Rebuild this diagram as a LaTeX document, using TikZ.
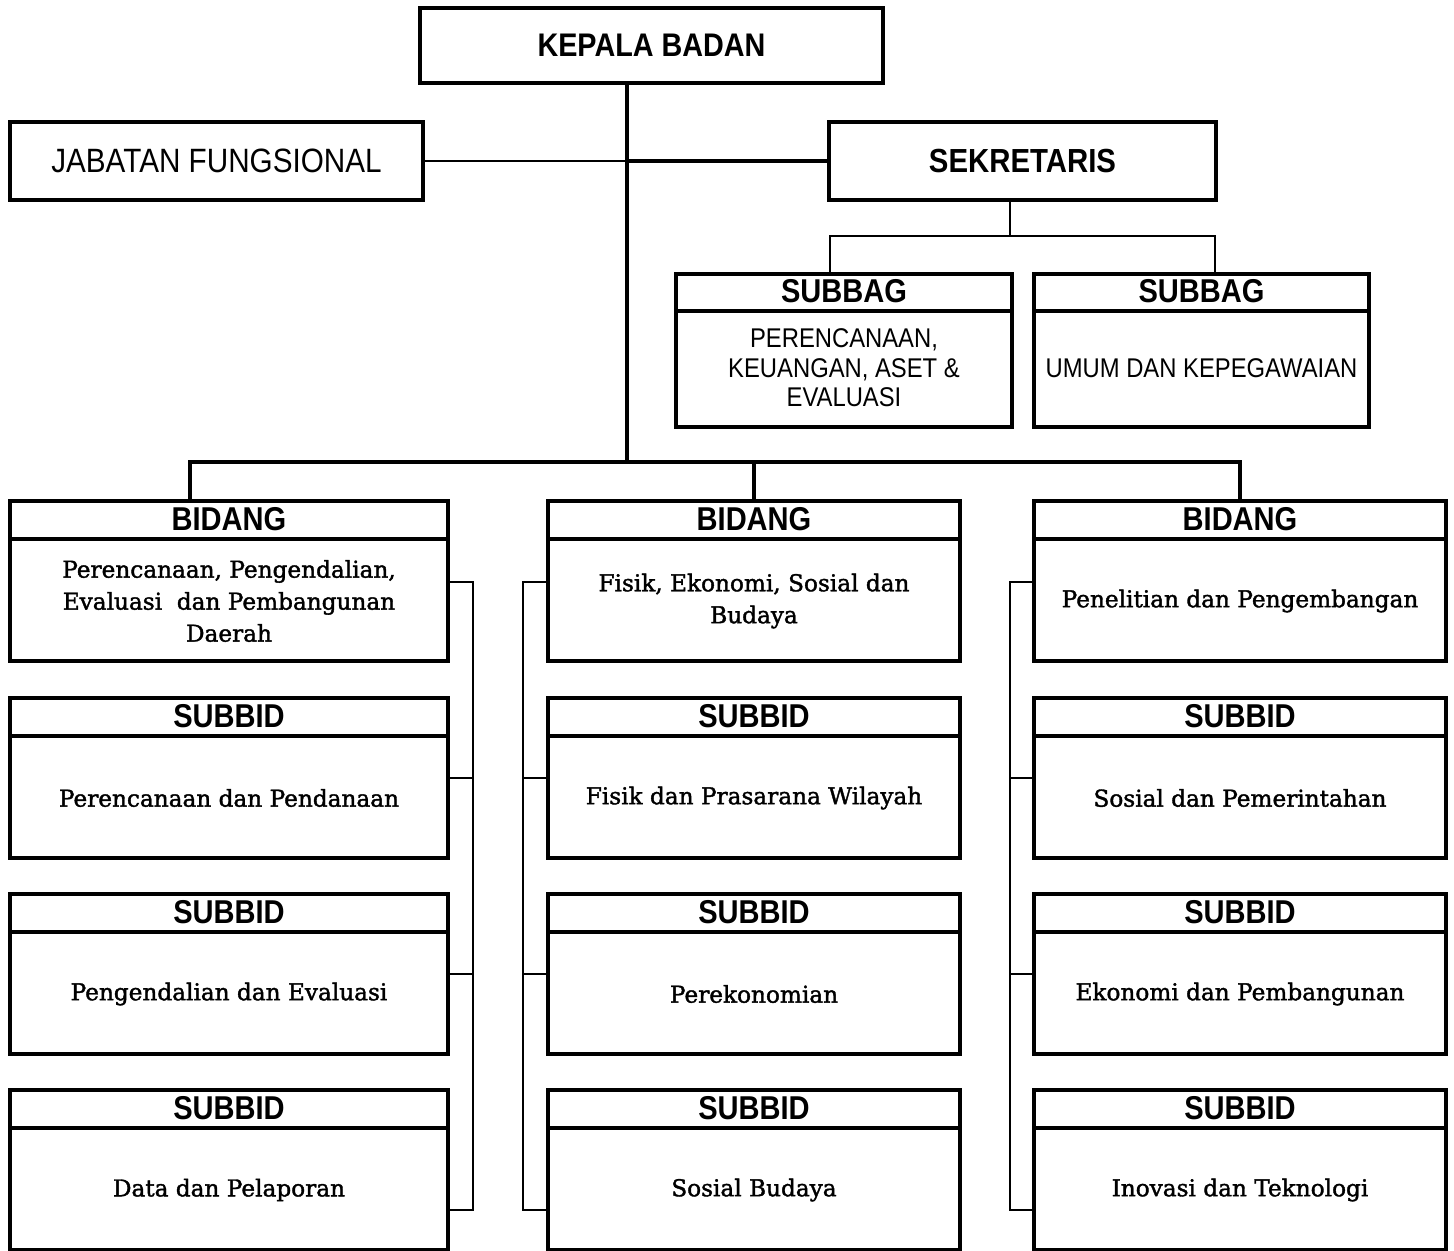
\documentclass[tikz,border=0pt]{standalone}
\usepackage{fontspec}
\newfontfamily\hdrfont[FakeStretch=0.88]{Liberation Sans}
\newfontfamily\bodyfont[FakeBold=1.6]{DejaVu Serif}
\begin{document}
\begin{tikzpicture}[x=.02cm,y=-.02cm,
  unit/.style={draw,line width=.08cm,inner sep=0pt},
  hdr/.style={font=\hdrfont\bfseries\fontsize{18.8}{20}\selectfont},
  sbtxt/.style={font=\hdrfont\fontsize{15.4}{16.8}\selectfont,align=center},
  txt/.style={font=\bodyfont\fontsize{13.2}{18.2}\selectfont,align=center},
  link/.style={line width=.08cm},
  fork/.style={line width=.05cm},
  bracket/.style={line width=.055cm},
  thin link/.style={line width=.03cm}]
\useasboundingbox (0,0) rectangle (1454,1251);
% top level
\node[unit,minimum width=463*.02cm,minimum height=75*.02cm,font=\hdrfont\bfseries\fontsize{18.6}{20}\selectfont] (kepala) at (651.5,45.5) {KEPALA BADAN};
\node[unit,minimum width=413*.02cm,minimum height=78*.02cm,font=\hdrfont\fontsize{19.2}{21}\selectfont] (jafung) at (216.5,161) {JABATAN FUNGSIONAL};
\node[unit,minimum width=387*.02cm,minimum height=78*.02cm,font=\hdrfont\bfseries\fontsize{19}{20}\selectfont] (sekr) at (1022.5,161) {SEKRETARIS};
% subbag
\foreach \n/\x/\w/\t in {1/844/336/{PERENCANAAN,\\KEUANGAN, ASET \&\\EVALUASI},2/1201.5/335/{UMUM DAN KEPEGAWAIAN}}{
  \node[unit,minimum width=\w*.02cm,minimum height=153*.02cm] (subbag\n) at (\x,350.5) {};
  \draw[line width=.08cm] ([yshift=-.78cm]subbag\n.north west) -- ([yshift=-.78cm]subbag\n.north east);
  \node[hdr] at ([yshift=-.39cm]subbag\n.north) {SUBBAG};
  \node[sbtxt] at ([yshift=-1.92cm]subbag\n.north) {\t};
}
% bidang and subbid
\foreach \c/\x/\w in {1/229/438,2/754/412,3/1240/412}
  \foreach \r/\y/\k in {0/501/BIDANG,1/698/SUBBID,2/894/SUBBID,3/1090/SUBBID}{
    \node[unit,minimum width=\w*.02cm,minimum height=3.2cm] (u\c\r) at (\x,\y+80) {};
    \draw[line width=.08cm] ([yshift=-.8cm]u\c\r.north west) -- ([yshift=-.8cm]u\c\r.north east);
    \node[hdr] at ([yshift=-.4cm]u\c\r.north) {\k};
  }
\foreach \c/\r/\t in {1/0/{Perencanaan, Pengendalian,\\Evaluasi\ \ dan Pembangunan\\Daerah},
  1/1/Perencanaan dan Pendanaan,1/2/Pengendalian dan Evaluasi,1/3/Data dan Pelaporan,
  2/0/{Fisik, Ekonomi, Sosial dan\\Budaya},2/1/Fisik dan Prasarana Wilayah,2/2/Perekonomian,2/3/Sosial Budaya,
  3/0/Penelitian dan Pengembangan,3/1/Sosial dan Pemerintahan,3/2/Ekonomi dan Pembangunan,3/3/Inovasi dan Teknologi}
  \node[txt] at ([yshift=-2.04cm]u\c\r.north) {\t};
% connectors
\coordinate (spine) at (627,462);
\coordinate (sfork) at (1010,236);
\coordinate (sl) at (830,236);
\coordinate (sr) at (1215,236);
\coordinate (bl) at (190,462);
\coordinate (br) at (1240,462);
\draw[link] (kepala.south -| spine) -- (spine);
\draw[thin link] (jafung.east) -- (jafung.east -| spine);
\draw[link] (sekr.west -| spine) -- (sekr.west);
\draw[fork] (sekr.south -| sfork) -- (sfork);
\draw[fork] (sl |- subbag1.north) -- (sl) -- (sr) -- (sr |- subbag2.north);
\draw[link] (bl |- u10.north) -- (bl) -- (br) -- (br |- u30.north);
\draw[link] (u20.north) -- (u20.north |- spine);
\foreach \c/\bx/\s in {1/473/east,2/523/west,3/1010/west}{
  \draw[bracket] (u\c0.\s |- 0,582) -| (\bx,1210) -- (u\c3.\s |- 0,1210);
  \foreach \r/\ty in {1/778,2/974}
    \draw[bracket] (u\c\r.\s |- 0,\ty) -- (\bx,\ty);
}
\end{tikzpicture}
\end{document}
